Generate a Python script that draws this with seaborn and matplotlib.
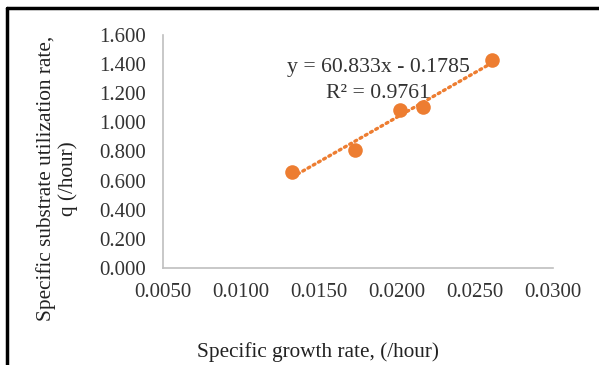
import numpy as np
import pandas as pd
import matplotlib
matplotlib.use('Agg')
import matplotlib.pyplot as plt
import seaborn as sns

# values
growth_rate = [0.0133, 0.0173, 0.0202, 0.0217, 0.0261]
utilization = [0.660, 0.810, 1.085, 1.105, 1.430]
x_ticks = [0.005, 0.010, 0.015, 0.020, 0.025, 0.030]
y_ticks = [0.0, 0.2, 0.4, 0.6, 0.8, 1.0, 1.2, 1.4, 1.6]
equation = 'y = 60.833x - 0.1785'
r_squared = 'R² = 0.9761'

df = pd.DataFrame({'mu': growth_rate, 'q': utilization})

sns.set_style('white')
plt.rcParams['font.family'] = ['Liberation Serif', 'DejaVu Serif']

orange = '#ED7D31'
fig = plt.figure(figsize=(5.99, 3.65), dpi=100)
ax = fig.add_axes([0.272, 0.266, 0.651, 0.638])

sns.regplot(data=df, x='mu', y='q', ci=None, ax=ax, color=orange,
            scatter_kws={'s': 110, 'alpha': 1, 'linewidths': 0, 'zorder': 3},
            line_kws={'linestyle': (0, (0.6, 1.2)), 'linewidth': 2.4,
                      'dash_capstyle': 'round', 'zorder': 2})

ax.set_xlim(0.005, 0.030)
ax.set_ylim(0.0, 1.6)
ax.set_xticks(x_ticks)
ax.set_yticks(y_ticks)
ax.set_xticklabels([f'{v:.4f}' for v in x_ticks])
ax.set_yticklabels([f'{v:.3f}' for v in y_ticks])
ax.tick_params(length=0, labelsize=15, colors='#333333')
ax.tick_params(axis='y', pad=12)
ax.tick_params(axis='x', pad=11)

for side in ['top', 'right']:
    ax.spines[side].set_visible(False)
for side in ['left', 'bottom']:
    ax.spines[side].set_color('#bfbfbf')
    ax.spines[side].set_linewidth(1.2)

ax.set_xlabel('')
ax.set_ylabel('')
fig.text(0.53, 0.035, 'Specific growth rate, (/hour)', ha='center', va='center',
         fontsize=15.3, color='#222222')
fig.text(0.095, 0.51, 'Specific substrate utilization rate,\nq (/hour)', ha='center',
         va='center', rotation=90, fontsize=15.3, color='#222222', linespacing=1.2)

# equation box placed in data coordinates near the upper end of the trend line
ax.text(0.0188, 1.38, equation, ha='center', va='center', fontsize=15.7, color='#333333')
ax.text(0.0188, 1.195, r_squared, ha='center', va='center', fontsize=15.7, color='#333333')

# frame lines on the left and top edge of the picture
fig.add_artist(plt.Line2D([0.012, 0.012], [0.0, 0.978], color='black', linewidth=2.5,
                          transform=fig.transFigure))
fig.add_artist(plt.Line2D([0.012, 1.0], [0.978, 0.978], color='black', linewidth=2.5,
                          transform=fig.transFigure))

fig.savefig('out.png', dpi=100)
